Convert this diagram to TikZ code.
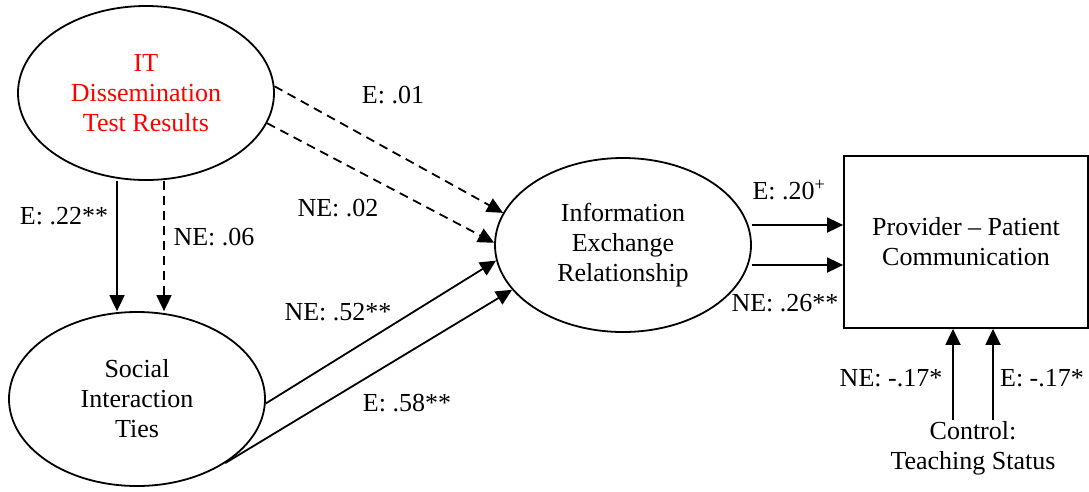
\documentclass[tikz,border=0pt]{standalone}
\usepackage{fontspec}
\setmainfont{Liberation Serif}
\usetikzlibrary{arrows.meta,shapes.geometric}

\begin{document}
\begin{tikzpicture}[x=1pt,y=-1pt,line width=1.8pt,
    every node/.style={font=\fontsize{26}{30}\selectfont},
    oval/.style={draw,ellipse,minimum width=256pt,minimum height=174pt,inner sep=0pt,align=center},
    arr/.style={-{Triangle[length=16pt,width=15pt]}},
    dasharr/.style={arr,dash pattern=on 9pt off 6pt}]
        \useasboundingbox (0,0) rectangle (1089,491);
        % the four blocks
        \node[oval] (it) at (146,93) {\color{red}IT\\\color{red}Dissemination\\\color{red}Test Results};
        \node[oval] (soc) at (137,399) {Social\\Interaction\\Ties};
        \node[oval] (info) at (623,245) {Information\\Exchange\\Relationship};
        \node[draw,minimum width=244pt,minimum height=172pt,align=center] (box) at (966,242) {Provider -- Patient\\Communication};
        \node[align=center,inner sep=0pt] (ctrl) at (973,448) {Control:\\Teaching Status};
        % paths
        \draw[dasharr] (it.3) -- (info.165);
        \draw[dasharr] (it.-14) -- (info.179);
        \draw[arr] ([xshift=-29pt]it.south) -- ([xshift=-29pt]it.south |- soc.north);
        \draw[dasharr] ([xshift=18pt]it.south) -- ([xshift=18pt]it.south |- soc.north);
        \draw[arr] (soc.-2) -- (info.-173);
        \draw[arr] (soc.-36) -- (info.-158);
        \draw[arr] ([yshift=20pt]info.east) -- ([yshift=20pt]info.east -| box.west);
        \draw[arr] ([yshift=-20pt]info.east) -- ([yshift=-20pt]info.east -| box.west);
        \draw[arr] ([xshift=-20pt]ctrl.north) -- ([xshift=-20pt]ctrl.north |- box.south);
        \draw[arr] ([xshift=20pt]ctrl.north) -- ([xshift=20pt]ctrl.north |- box.south);
        % coefficients
        \node (e01) at (393,95) {E: .01};
        \node (ne02) at (338,208) {NE: .02};
        \node (e22) at (64,216) {E: .22**};
        \node (ne06) at (214,237) {NE: .06};
        \node (ne52) at (338,312) {NE: .52**};
        \node (e58) at (407,403) {E: .58**};
        \node (e20) at (789,190) {E: .20\textsuperscript{+}};
        \node (ne26) at (785,303) {NE: .26**};
        \node (ne17) at (891,378) {NE: -.17*};
        \node (e17) at (1042,378) {E: -.17*};
    \end{tikzpicture}
\end{document}
